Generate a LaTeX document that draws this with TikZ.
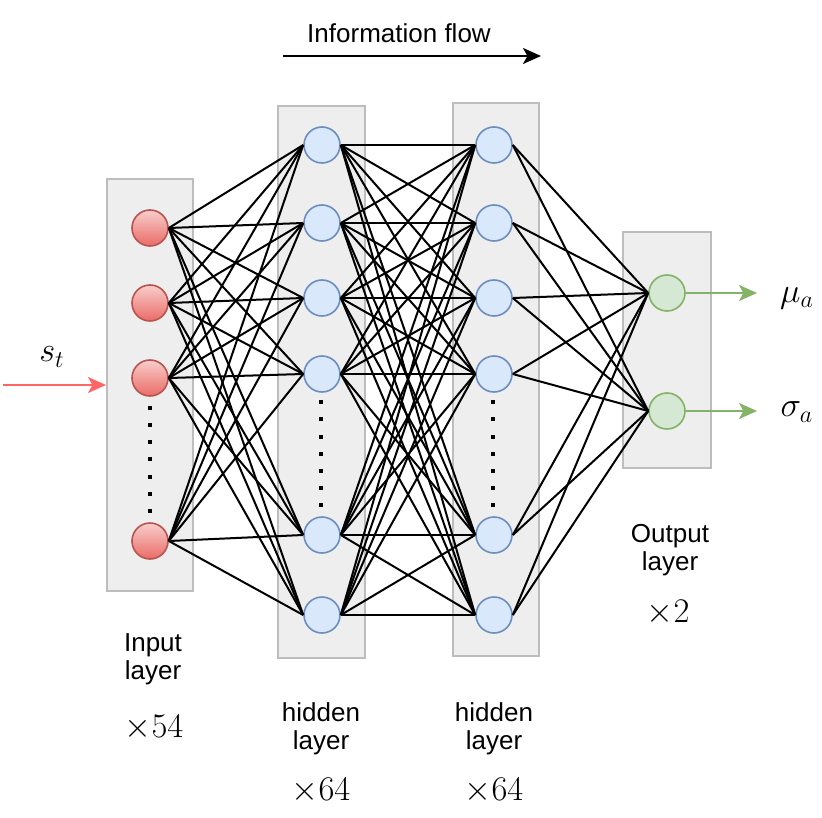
\documentclass[tikz,border=0pt]{standalone}
\usepackage{fontspec}
\setmainfont{Liberation Sans}
\usetikzlibrary{arrows.meta}

\definecolor{boxfill}{HTML}{EEEEEE}
\definecolor{boxline}{HTML}{BDBDBD}
\definecolor{intop}{HTML}{F8CECC}
\definecolor{inbottom}{HTML}{EA6B66}
\definecolor{inborder}{HTML}{B85450}
\definecolor{hidfill}{HTML}{DAE8FC}
\definecolor{hidborder}{HTML}{6C8EBF}
\definecolor{outfill}{HTML}{D5E8D4}
\definecolor{outborder}{HTML}{82B366}
\definecolor{inarrow}{HTML}{FF6666}

\tikzset{
  layerbox/.style={draw=boxline, fill=boxfill, line width=1pt},
  neuron/.style={circle, minimum size=18pt, inner sep=0pt, line width=0.8pt},
  inneuron/.style={neuron, draw=inborder, top color=intop, bottom color=inbottom},
  hidneuron/.style={neuron, draw=hidborder, fill=hidfill},
  outneuron/.style={neuron, draw=outborder, fill=outfill},
  link/.style={line width=1pt},
  labeltext/.style={font=\fontsize{13}{14}\selectfont, align=center, inner sep=0pt},
  mathtext/.style={font=\fontsize{17}{20}\selectfont, inner sep=0pt},
  tip/.style={-{Stealth[length=9pt,width=8pt,inset=2.2pt]}}
}

\begin{document}
\begin{tikzpicture}[x=0.5pt,y=-0.5pt]
\useasboundingbox (0,0) rectangle (822,817);
% draw layer boxes
\draw[layerbox] (107,179) rectangle (193,591);
\draw[layerbox] (278,106) rectangle (365,658);
\draw[layerbox] (453,103) rectangle (539,656);
\draw[layerbox] (623,232) rectangle (711,468);

% draw neurons
\foreach \y [count=\i] in {228,303,378,541}
\node[inneuron] (in\i) at (150,\y) {};
\foreach \y [count=\i] in {145,223,298,374,535,615}{
  \node[hidneuron] (ha\i) at (322,\y) {};
  \node[hidneuron] (hb\i) at (494,\y) {};
}
\foreach \y [count=\i] in {293,411}
\node[outneuron] (out\i) at (667,\y) {};

% draw dots
\foreach \y in {408,425,442,459,477,494,511}
\fill (148,\y-2) rectangle ++(4,4);
\foreach \y in {402,419,437,454,471,488,505}{
  \fill (319,\y-2) rectangle ++(4,4);
  \fill (491,\y-2) rectangle ++(4,4);
}

% draw connections
\foreach \i in {1,...,4}
\foreach \j in {1,...,6}
\draw[link] (in\i.east) -- (ha\j.west);
\foreach \i in {1,...,6}
\foreach \j in {1,...,6}
\draw[link] (ha\i.east) -- (hb\j.west);
\foreach \i in {1,...,6}
\foreach \j in {1,2}
\draw[link] (hb\i.east) -- (out\j.west);

% draw input and outputs
\coordinate (src) at (3,385);
\coordinate (inedge) at (106,385);
\draw[tip, inarrow, line width=1pt] (src) -- (inedge);
\node[mathtext] (stlabel) at (52,357) {$s_t$};
\coordinate (muend) at (757,293);
\coordinate (sigmaend) at (757,411);
\draw[tip, outborder, line width=1pt] (out1.east) -- (muend);
\draw[tip, outborder, line width=1pt] (out2.east) -- (sigmaend);
\node[mathtext] (mulabel) at (797,298) {$\mu_a$};
\node[mathtext] (sigmalabel) at (797,412) {$\sigma_a$};

% draw information flow
\coordinate (flowstart) at (283,56);
\coordinate (flowend) at (541,56);
\draw[tip, line width=1pt] (flowstart) -- (flowend);
\node[labeltext] (flowlabel) at (399,33) {Information flow};

% draw layer labels
\node[labeltext] (inlabel) at (153,659) {Input\\layer};
\node[labeltext] (halabel) at (321,729) {hidden\\layer};
\node[labeltext] (hblabel) at (494,729) {hidden\\layer};
\node[labeltext] (outlabel) at (670,550) {Output\\layer};
\node[mathtext, anchor=base] (incount) at (154,737) {$\times54$};
\node[mathtext, anchor=base] (hacount) at (321,800) {$\times64$};
\node[mathtext, anchor=base] (hbcount) at (494,800) {$\times64$};
\node[mathtext, anchor=base] (outcount) at (668,622) {$\times2$};
\end{tikzpicture}
\end{document}
